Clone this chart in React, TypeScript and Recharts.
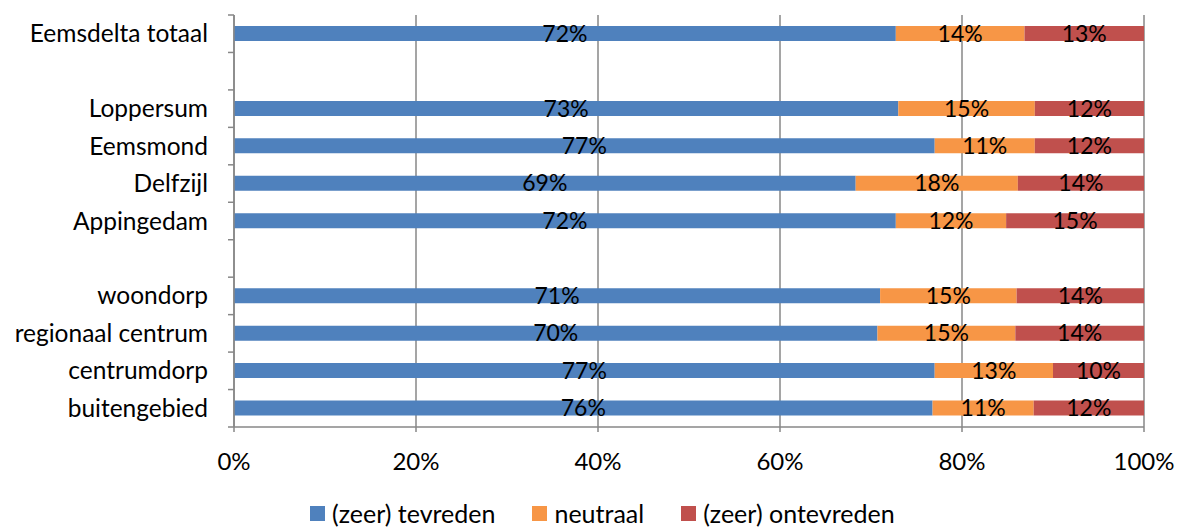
import React from 'react';
import { BarChart, Bar, XAxis, YAxis, CartesianGrid, LabelList } from 'recharts';

// rows from top to bottom; blank names are spacer rows
const categories = ['Eemsdelta totaal', ' ', 'Loppersum', 'Eemsmond', 'Delfzijl', 'Appingedam', '  ', 'woondorp', 'regionaal centrum', 'centrumdorp', 'buitengebied'];
const tevreden = [72, null, 73, 77, 69, 72, null, 71, 70, 77, 76];
const neutraal = [14, null, 15, 11, 18, 12, null, 15, 15, 13, 11];
const ontevreden = [13, null, 12, 12, 14, 15, null, 14, 14, 10, 12];
const xTicks = [0, 0.2, 0.4, 0.6, 0.8, 1];

const data = categories.map((name, i) => ({
  name,
  tevreden: tevreden[i],
  neutraal: neutraal[i],
  ontevreden: ontevreden[i],
}));

const FONT = 'Lato, "Noto Sans", sans-serif';
const GRID = '#878787';
const COLORS = { tevreden: '#4F81BD', neutraal: '#F79646', ontevreden: '#C0504D' };

const pct = (v: any) => (v === null || v === undefined ? '' : `${v}%`);

// category label at band centre, tick mark at band boundary (Excel style)
const CategoryTick = (props: any) => {
  const { x, y, payload, index } = props;
  const half = payload.offset || 18.7;
  const ax = x + 26;
  return (
    <g>
      <text x={x} y={y} dy="0.35em" textAnchor="end" fontSize={24.5} fill="#000" fontFamily={FONT}>
        {payload.value}
      </text>
      <line x1={ax - 6} x2={ax} y1={y - half} y2={y - half} stroke={GRID} strokeWidth={1.5} />
      {index === categories.length - 1 && (
        <line x1={ax - 6} x2={ax} y1={y + half} y2={y + half} stroke={GRID} strokeWidth={1.5} />
      )}
    </g>
  );
};

const legendItems = [
  { key: 'tevreden', label: '(zeer) tevreden' },
  { key: 'neutraal', label: 'neutraal' },
  { key: 'ontevreden', label: '(zeer) ontevreden' },
];

const App: React.FC = () => {
  return (
    <div style={{ position: 'absolute', left: 0, top: 0, width: 1181, height: 529, fontFamily: FONT }}>
      <BarChart
        width={1181}
        height={480}
        data={data}
        layout="vertical"
        stackOffset="expand"
        margin={{ top: 15, right: 37, left: 0, bottom: 0 }}
        barSize={15}
      >
        <CartesianGrid horizontal={false} stroke={GRID} strokeWidth={1.5} />
        <XAxis
          type="number"
          domain={[0, 1]}
          ticks={xTicks}
          tickFormatter={(v: number) => `${Math.round(v * 100)}%`}
          stroke={GRID}
          strokeWidth={1.5}
          tickSize={5}
          tickMargin={21}
          tick={{ fill: '#000', fontSize: 24, fontFamily: FONT }}
          height={53}
          interval={0}
        />
        <YAxis
          type="category"
          dataKey="name"
          width={234}
          stroke={GRID}
          strokeWidth={1.5}
          tickLine={false}
          tickSize={0}
          tickMargin={26}
          interval={0}
          tick={<CategoryTick />}
        />
        {legendItems.map((it) => (
          <Bar key={it.key} dataKey={it.key} stackId="a" fill={(COLORS as any)[it.key]} isAnimationActive={false}>
            <LabelList dataKey={it.key} position="center" formatter={pct} fill="#000" fontSize={23} fontFamily={FONT} />
          </Bar>
        ))}
      </BarChart>
      <div
        style={{
          position: 'absolute',
          top: 498,
          left: 310,
          display: 'flex',
          alignItems: 'center',
          fontSize: 25,
          lineHeight: '30px',
          whiteSpace: 'nowrap',
        }}
      >
        {legendItems.map((it) => (
          <div key={it.key} style={{ display: 'flex', alignItems: 'center', marginRight: 37 }}>
            <span style={{ width: 15, height: 15, background: (COLORS as any)[it.key], marginRight: 7, display: 'inline-block' }} />
            <span>{it.label}</span>
          </div>
        ))}
      </div>
    </div>
  );
};

export default App;
